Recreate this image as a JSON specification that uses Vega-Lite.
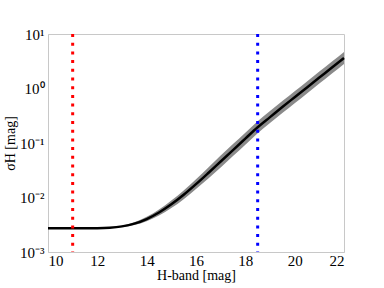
{
  "$schema": "https://vega.github.io/schema/vega-lite/v6.json",
  "autosize": "none",
  "width": 296,
  "height": 218,
  "padding": {"left": 48, "top": 34, "right": 40, "bottom": 36},
  "background": "white",
  "config": {
    "view": {"stroke": "#c8c8c8", "strokeWidth": 1},
    "font": "Liberation Serif",
    "axis": {
      "grid": false,
      "domainColor": "#c8c8c8",
      "ticks": false,
      "labelFont": "Liberation Serif",
      "titleFont": "Liberation Serif",
      "labelFontSize": 15,
      "titleFontSize": 14,
      "labelColor": "#000000",
      "titleColor": "#000000",
      "titleFontWeight": "normal"
    }
  },
  "datasets": {
    "curve": [
      {"m": 10, "s": 0.00272, "lo": 0.00272, "hi": 0.00272},
      {"m": 11, "s": 0.00272, "lo": 0.00272, "hi": 0.00272},
      {"m": 12, "s": 0.002735, "lo": 0.002722, "hi": 0.002748},
      {"m": 12.5, "s": 0.002786, "lo": 0.002748, "hi": 0.002825},
      {"m": 13, "s": 0.002951, "lo": 0.002864, "hi": 0.003041},
      {"m": 13.5, "s": 0.003311, "lo": 0.003126, "hi": 0.003507},
      {"m": 14, "s": 0.004027, "lo": 0.003673, "hi": 0.004416},
      {"m": 14.5, "s": 0.005309, "lo": 0.004678, "hi": 0.006026},
      {"m": 15, "s": 0.0075, "lo": 0.006384, "hi": 0.008812},
      {"m": 15.5, "s": 0.01122, "lo": 0.009332, "hi": 0.01349},
      {"m": 16, "s": 0.01758, "lo": 0.01429, "hi": 0.02163},
      {"m": 16.5, "s": 0.0282, "lo": 0.022401, "hi": 0.035501},
      {"m": 17, "s": 0.0457, "lo": 0.035476, "hi": 0.058871},
      {"m": 17.5, "s": 0.0741, "lo": 0.057522, "hi": 0.095456},
      {"m": 18, "s": 0.1202, "lo": 0.093309, "hi": 0.154842},
      {"m": 18.5, "s": 0.195, "lo": 0.151374, "hi": 0.251199},
      {"m": 19, "s": 0.2985, "lo": 0.231718, "hi": 0.384528},
      {"m": 19.5, "s": 0.457, "lo": 0.354759, "hi": 0.588707},
      {"m": 20, "s": 0.692, "lo": 0.537184, "hi": 0.891434},
      {"m": 20.5, "s": 1.047, "lo": 0.812762, "hi": 1.348745},
      {"m": 21, "s": 1.585, "lo": 1.230399, "hi": 2.041797},
      {"m": 21.5, "s": 2.4, "lo": 1.863065, "hi": 3.09168},
      {"m": 22, "s": 3.63, "lo": 2.817885, "hi": 4.676166}
    ],
    "lines": [
      {"m": 11, "c": "red"},
      {"m": 18.5, "c": "blue"}
    ]
  },
  "layer": [
    {
      "data": {"name": "curve"},
      "mark": {"type": "area", "color": "#8a8a8a", "interpolate": "monotone", "opacity": 1},
      "encoding": {
        "x": {"field": "m", "type": "quantitative", "scale": {"domain": [10, 22], "nice": false, "zero": false},
              "axis": {"values": [10, 12, 14, 16, 18, 20, 22], "title": "H-band [mag]", "labelPadding": 1, "titlePadding": 0}},
        "y": {"field": "lo", "type": "quantitative", "scale": {"type": "log", "domain": [0.001, 10], "nice": false},
              "axis": {"values": [0.001, 0.01, 0.1, 1, 10], "title": "σH [mag]", "labelPadding": 4, "titlePadding": 2,
                       "labelExpr": "datum.value > 5 ? '10¹' : datum.value > 0.5 ? '10⁰' : datum.value > 0.05 ? '10⁻¹' : datum.value > 0.005 ? '10⁻²' : '10⁻³'"}},
        "y2": {"field": "hi"}
      }
    },
    {
      "data": {"name": "curve"},
      "mark": {"type": "line", "color": "#000000", "strokeWidth": 2.5, "interpolate": "monotone"},
      "encoding": {
        "x": {"field": "m", "type": "quantitative"},
        "y": {"field": "s", "type": "quantitative"}
      }
    },
    {
      "data": {"name": "lines"},
      "mark": {"type": "rule", "strokeWidth": 3, "strokeDash": [3, 5.7]},
      "encoding": {
        "x": {"field": "m", "type": "quantitative"},
        "color": {"field": "c", "type": "nominal", "scale": {"domain": ["red", "blue"], "range": ["#ff0000", "#0000ff"]}, "legend": null}
      }
    }
  ]
}
